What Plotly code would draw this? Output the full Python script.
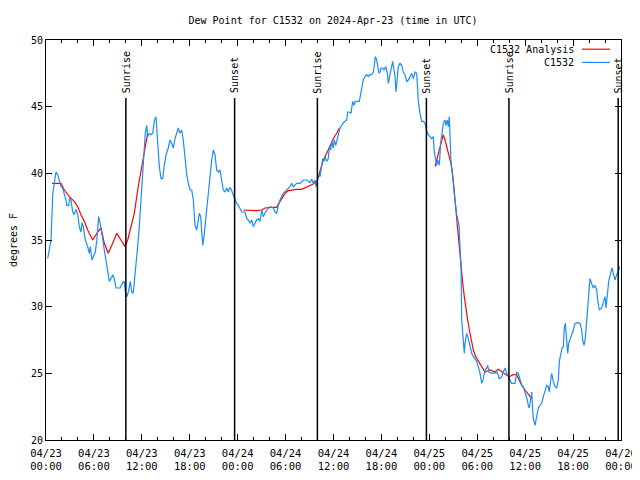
import pandas as pd
import plotly.graph_objects as go

START = "2024-04-23 00:00"
TITLE = "Dew Point for C1532 on 2024-Apr-23 (time in UTC)"

# observed series: hours after start, dew point (F)
obs_hours = [0.21, 0.63, 0.84, 1.04, 1.25, 1.47, 1.67, 1.88, 2.09, 2.29, 2.50, 2.59, 2.84, 3.01, 3.13, 3.34,
             3.54, 3.76, 3.97, 4.17, 4.38, 4.51, 4.67, 4.92, 5.22, 5.42, 5.55, 5.76, 5.92, 6.17, 6.35, 6.47,
             6.60, 6.76, 6.89, 7.10, 7.30, 7.51, 7.73, 7.93, 8.14, 8.35, 8.55, 8.77, 8.98, 9.27, 9.60, 9.80,
             9.93, 10.11, 10.27, 10.43, 10.56, 10.73, 10.93, 11.06, 11.27, 11.48, 11.68, 11.90, 12.11, 12.31,
             12.43, 12.61, 12.73, 12.94, 13.15, 13.36, 13.56, 13.77, 13.99, 14.19, 14.40, 14.61, 14.81, 15.03,
             15.31, 15.53, 15.74, 15.94, 16.15, 16.37, 16.57, 16.78, 16.99, 17.19, 17.41, 17.62, 17.82, 18.03,
             18.24, 18.45, 18.57, 18.66, 18.87, 19.07, 19.20, 19.37, 19.50, 19.62, 19.78, 20.00, 20.12, 20.32,
             20.54, 20.75, 20.95, 21.16, 21.37, 21.58, 21.79, 22.00, 22.20, 22.41, 22.63, 22.83, 23.04, 23.25,
             23.45, 23.63, 23.88, 24.08, 24.29, 24.51, 24.92, 25.13, 25.33, 25.54, 25.76, 25.96, 26.17, 26.38,
             26.58, 26.80, 27.01, 27.21, 27.42, 27.64, 28.05, 28.46, 28.68, 28.89, 29.09, 29.30, 29.71, 30.14,
             30.55, 30.76, 30.97, 31.39, 31.81, 32.22, 32.64, 33.06, 33.27, 33.47, 33.68, 33.81, 33.97, 34.10,
             34.31, 34.52, 34.65, 34.81, 34.94, 35.15, 35.35, 35.48, 35.65, 35.78, 35.98, 36.10, 36.28, 36.40,
             36.60, 36.81, 37.03, 37.23, 37.44, 37.65, 37.78, 37.98, 38.19, 38.40, 38.57, 38.73, 39.23, 39.41,
             39.53, 39.73, 39.94, 40.16, 40.36, 40.57, 40.78, 40.98, 41.11, 41.23, 41.41, 41.54, 41.70, 41.82,
             41.95, 42.16, 42.32, 42.57, 42.74, 42.86, 43.08, 43.24, 43.41, 43.58, 43.70, 43.83, 43.95, 44.11,
             44.33, 44.54, 44.74, 44.95, 45.17, 45.37, 45.58, 45.79, 45.99, 46.21, 46.42, 46.49, 46.62, 46.83,
             47.05, 47.25, 47.46, 47.67, 47.87, 48.08, 48.29, 48.50, 48.62, 48.80, 48.92, 49.05, 49.13, 49.25,
             49.42, 49.55, 49.75, 49.96, 50.09, 50.25, 50.38, 50.50, 50.59, 50.71, 50.88, 51.00, 51.13, 51.30,
             51.43, 51.55, 51.72, 51.84, 51.97, 52.05, 52.26, 52.38, 52.47, 52.68, 52.88, 53.09, 53.31, 53.51,
             53.72, 53.93, 54.13, 54.35, 54.56, 54.76, 54.97, 55.19, 55.31, 55.47, 55.81, 56.22, 56.51, 56.76,
             57.06, 57.26, 57.48, 57.69, 57.89, 58.10, 58.31, 58.73, 58.94, 59.14, 59.35, 59.57, 59.77, 59.98,
             60.10, 60.27, 60.39, 60.52, 60.61, 60.73, 60.82, 60.94, 61.02, 61.23, 61.44, 61.65, 61.86, 62.07,
             62.27, 62.48, 62.70, 62.90, 63.02, 63.20, 63.32, 63.52, 63.74, 63.95, 64.15, 64.28, 64.45, 64.61,
             64.78, 64.90, 65.03, 65.15, 65.33, 65.45, 65.61, 65.83, 66.03, 66.24, 66.45, 66.87, 67.08, 67.20,
             67.37, 67.53, 67.71, 67.83, 67.96, 68.12, 68.33, 68.53, 68.75, 68.96, 69.08, 69.28, 69.58, 69.79,
             70.00, 70.12, 70.29, 70.46, 70.71, 70.87, 71.04, 71.25, 71.46, 71.66, 71.88]
obs_values = [33.6, 35.0, 38.4, 39.3, 40.1, 39.9, 39.5, 39.0, 38.9, 38.5, 38.0, 37.6, 37.6, 38.2, 38.0, 37.1,
              36.9, 37.3, 36.9, 36.0, 35.6, 36.3, 36.0, 35.0, 34.5, 34.0, 34.5, 33.5, 33.75, 34.1, 34.9, 36.1,
              36.75, 36.3, 35.9, 35.1, 34.25, 33.5, 32.75, 31.9, 32.1, 32.4, 32.1, 31.4, 31.4, 31.4, 31.8, 31.9,
              31.1, 30.75, 31.0, 31.5, 31.9, 31.1, 31.0, 31.9, 33.0, 34.5, 36.0, 38.0, 39.75, 41.5,
              43.0, 43.6, 42.75, 43.0, 42.9, 43.0, 43.9, 44.25, 42.25, 40.5, 39.6, 39.6, 40.6, 41.4,
              41.9, 42.5, 42.25, 41.9, 42.6, 43.0, 43.4, 43.0, 43.25, 42.5, 41.0, 39.9, 39.25, 38.75,
              38.75, 38.0, 36.9, 36.1, 35.75, 36.5, 37.0, 36.75, 35.25, 34.6, 35.25, 36.5, 37.4, 38.75,
              39.75, 41.0, 41.75, 41.4, 40.25, 40.1, 40.25, 39.5, 38.75, 38.6, 38.9, 38.6, 38.95, 38.7,
              38.4, 38.0, 37.75, 37.6, 37.4, 37.1, 37.1, 36.6, 36.5, 36.25, 36.5, 36.0, 36.25, 36.5,
              36.6, 36.4, 37.25, 36.75, 37.0, 37.25, 37.5, 37.4, 37.1, 37.0, 37.6, 38.0, 38.5, 38.75,
              39.0, 39.25, 39.0, 39.25, 39.25, 39.5, 39.5, 39.3, 39.55, 39.25, 39.5, 39.0, 39.4, 39.9,
              39.75, 40.5, 41.1, 40.9, 41.25, 40.9, 41.1, 42.0, 41.75, 42.4, 41.9, 42.5, 42.1, 42.4,
              43.0, 43.4, 43.6, 43.8, 43.9, 44.0, 44.6, 44.6, 44.5, 45.4, 45.1, 45.4, 45.4, 46.0,
              46.5, 47.0, 47.25, 47.4, 47.25, 47.4, 47.4, 47.6, 48.1, 48.75, 48.5, 47.9, 47.5, 47.6,
              47.9, 47.9, 47.75, 48.0, 47.5, 46.75, 47.5, 48.1, 48.4, 47.75, 47.25, 46.1, 47.25, 48.0,
              48.25, 48.1, 47.6, 47.4, 46.9, 47.0, 47.25, 47.5, 47.1, 47.6, 47.5, 46.9, 45.4, 44.5,
              43.9, 43.9, 43.75, 43.2, 42.9, 42.75, 42.6, 42.75, 41.6, 41.0, 40.6, 41.0, 40.75, 40.6,
              42.25, 43.0, 43.75, 44.0, 43.6, 44.0, 43.5, 44.25, 42.5, 40.9, 40.0, 39.1, 38.4, 37.5,
              36.9, 36.5, 36.1, 34.5, 33.0, 29.0, 27.0, 26.5, 27.25, 28.0, 27.6, 27.0, 26.5, 26.25,
              26.1, 25.9, 25.5, 25.0, 24.25, 24.6, 25.25, 25.4, 25.6, 25.1, 25.0, 25.05, 25.05, 24.6,
              24.75, 25.1, 25.4, 25.0, 24.75, 24.4, 24.25, 24.25, 25.1, 25.0, 24.6, 24.1, 24.0, 23.6,
              23.25, 23.0, 22.6, 22.4, 22.75, 23.25, 23.6, 22.25, 21.6, 21.1, 21.75, 22.4, 22.6, 22.75,
              23.25, 23.75, 24.1, 24.0, 23.6, 24.5, 25.0, 24.4, 24.0, 23.9, 24.5, 25.9, 26.6, 26.9,
              27.0, 28.4, 28.75, 27.5, 26.5, 27.25, 27.5, 27.9, 28.25, 28.75, 28.8, 28.75, 28.25, 27.5,
              27.1, 27.6, 29.0, 30.4, 31.5, 32.1, 31.75, 31.4, 31.6, 31.25, 30.5, 29.75, 29.9, 30.4,
              30.75, 29.9, 31.25, 31.9, 32.5, 32.9, 32.5, 32.0, 32.4, 32.75, 33.0]

# analysis series (three 12-hour windows), None separates windows
ana_hours = [0.75, 1.88, 2.29, 2.92, 3.54, 3.97, 4.38, 4.80, 5.22, 5.85, 6.47, 6.89, 7.30, 7.80, 8.35, 8.85,
             9.39, 9.89, 10.23, 10.64, 11.06, 11.48, 11.90, 12.31, 12.73, 18.0,
             24.71, 26.38, 27.01, 27.42, 28.26, 28.89, 29.21, 29.93, 30.34, 31.39, 32.02, 32.84, 33.47, 33.97,
             34.31, 34.72, 35.15, 35.56, 35.98, 36.40, 36.73, 42.0,
             48.71, 48.92, 49.25, 49.55, 49.75, 49.96, 50.17, 50.50, 50.71, 50.92, 51.13, 51.34, 51.55, 51.75,
             51.97, 52.18, 52.38, 52.59, 52.80, 53.01, 53.22, 53.51, 53.81, 54.13, 54.56, 54.97, 55.60, 56.22,
             56.64, 57.06, 57.48, 58.01, 58.51, 58.94, 59.27, 59.57, 59.98, 60.39, 60.82]
ana_values = [39.25, 39.25, 38.75, 38.25, 37.9, 37.5, 36.9, 36.4, 35.75, 35.0, 35.6, 35.9, 34.75, 34.0, 34.75, 35.5,
              35.0, 34.5, 35.0, 35.9, 37.0, 38.75, 40.25, 41.75, 43.0, None,
              37.25, 37.2, 37.25, 37.4, 37.45, 37.45, 37.8, 38.5, 38.7, 38.8, 38.8, 39.0, 39.2, 39.45,
              40.1, 41.0, 41.5, 42.1, 42.6, 43.0, 43.4, None,
              40.5, 41.0, 41.75, 42.6, 42.9, 42.5, 42.0, 41.4, 40.75, 39.9, 38.5, 37.0, 36.0, 34.5,
              33.0, 31.75, 30.75, 29.75, 29.0, 28.25, 27.6, 26.75, 26.25, 25.9, 25.5, 25.1, 25.25, 25.1,
              25.3, 25.1, 24.95, 24.75, 24.9, 24.9, 24.5, 24.1, 23.75, 23.4, 23.1]

sun_times = ["2024-04-23 10:00", "2024-04-23 23:37", "2024-04-24 09:59",
             "2024-04-24 23:38", "2024-04-25 09:58", "2024-04-25 23:39"]
sun_labels = ["Sunrise", "Sunset", "Sunrise", "Sunset", "Sunrise", "Sunset"]

tick_times = pd.date_range("2024-04-23 00:00", "2024-04-26 00:00", freq="6h")
tick_text = [t.strftime("%m/%d<br>%H:%M") for t in tick_times]

y_ticks = [20, 25, 30, 35, 40, 45, 50]

series_names = ["C1532 Analysis", "C1532"]
series_colors = ["#ff0000", "#1a8cff"]

base = pd.Timestamp(START)
obs_x = base + pd.to_timedelta(obs_hours, unit="h")
ana_x = base + pd.to_timedelta(ana_hours, unit="h")

FONT = "DejaVu Sans Mono"
OFF = 8  # page body margin in the browser

fig = go.Figure()
fig.add_trace(go.Scatter(x=ana_x, y=ana_values, mode="lines", name=series_names[0],
                         line=dict(color=series_colors[0], width=1.2), connectgaps=False,
                         showlegend=False))
fig.add_trace(go.Scatter(x=obs_x, y=obs_values, mode="lines", name=series_names[1],
                         line=dict(color=series_colors[1], width=1.2), showlegend=False))

for t, lab in zip(sun_times, sun_labels):
    fig.add_shape(type="line", xref="x", yref="y", x0=t, x1=t, y0=20, y1=45.65,
                  line=dict(color="black", width=1.5))
    fig.add_annotation(x=t, y=45.85, xref="x", yref="y", text=lab, textangle=-90,
                       showarrow=False, xanchor="center", yanchor="bottom",
                       font=dict(family=FONT, size=10, color="black"))

# legend (gnuplot style: text then line sample)
leg_y = [0.977, 0.944]
for name, col, yy in zip(series_names, series_colors, leg_y):
    fig.add_annotation(x=0.921, y=yy, xref="paper", yref="paper", text=name, showarrow=False,
                       xanchor="right", yanchor="middle", font=dict(family=FONT, size=10, color="black"))
    fig.add_shape(type="line", xref="paper", yref="paper", x0=0.932, x1=0.981, y0=yy, y1=yy,
                  line=dict(color=col, width=1.2))

fig.update_layout(
    width=640, height=480,
    margin=dict(l=46 - OFF, r=19 + OFF, t=40 - OFF, b=40 + OFF, autoexpand=False),
    paper_bgcolor="white", plot_bgcolor="white",
    font=dict(family=FONT, size=10, color="black"),
    title=dict(text=TITLE, x=(333 - OFF) / 640, xanchor="center", y=1 - (20 - OFF) / 480,
               yanchor="middle", yref="container",
               font=dict(family=FONT, size=10, color="black"), automargin=False),
    showlegend=False,
)
fig.update_xaxes(
    type="date", range=["2024-04-23 00:00", "2024-04-26 00:00"], automargin=False,
    tickvals=tick_times, ticktext=tick_text, ticks="inside", ticklen=6, tickwidth=1,
    tickcolor="black", showline=True, linecolor="black", linewidth=1, mirror="ticks",
    showgrid=False, zeroline=False, tickfont=dict(family=FONT, size=10.5), ticklabelstandoff=3,
    minor=dict(dtick=2 * 3600 * 1000, ticks="inside", ticklen=3, tickcolor="black", showgrid=False),
)
fig.update_yaxes(
    range=[20, 50], tickvals=y_ticks, ticks="inside", ticklen=6, tickwidth=1, tickcolor="black",
    showline=True, linecolor="black", linewidth=1, mirror="ticks", showgrid=False, zeroline=False,
    tickfont=dict(family=FONT, size=10), automargin=False,
    title=dict(text="degrees F", font=dict(family=FONT, size=10), standoff=17),
)

fig.write_html("out.html")
